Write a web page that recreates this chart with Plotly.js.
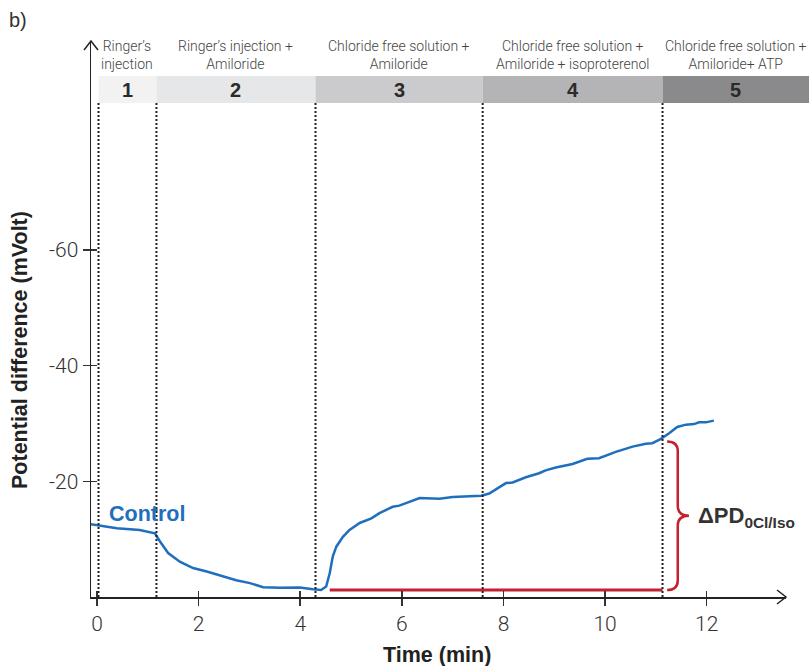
<!DOCTYPE html>
<html>
<head>
<meta charset="utf-8">
<script src="https://cdn.plot.ly/plotly-3.0.1.min.js"></script>
<style>html,body{margin:0;padding:0;background:#fff;}#chart{width:809px;height:666px;}</style>
</head>
<body>
<div id="chart"></div>
<script>
// ---- data ----
const timeMin = [-0.12, 0.39, 0.84, 1.14, 1.24, 1.40, 1.63, 1.89, 2.16, 2.41, 2.74, 3.01, 3.27, 3.60, 3.99, 4.25, 4.41, 4.51, 4.58, 4.64, 4.71, 4.84, 4.97, 5.17, 5.40, 5.56, 5.82, 5.95, 6.15, 6.35, 6.74, 7.00, 7.56, 7.72, 7.92, 8.05, 8.18, 8.44, 8.70, 8.83, 9.03, 9.36, 9.65, 9.88, 10.21, 10.54, 10.80, 10.93, 11.09, 11.26, 11.42, 11.59, 11.75, 11.85, 11.98, 12.14];
const controlPD = [-12.6, -11.9, -11.6, -11.0, -9.6, -7.6, -6.1, -5.0, -4.4, -3.7, -2.9, -2.4, -1.7, -1.6, -1.65, -1.35, -1.2, -1.8, -4.1, -7.0, -8.7, -10.4, -11.6, -12.8, -13.6, -14.5, -15.6, -15.8, -16.5, -17.1, -17.0, -17.3, -17.5, -17.9, -19.0, -19.7, -19.8, -20.7, -21.4, -21.9, -22.4, -23.0, -23.9, -24.0, -25.1, -26.0, -26.5, -26.6, -27.3, -28.3, -29.4, -29.8, -29.9, -30.2, -30.2, -30.5];
const baselineTime = [4.58, 11.13];
const baselinePD = [-1.2, -1.2];
const deltaTop = -26.9;           // PD at start of phase 5
const phaseBounds = [0.03, 1.17, 4.30, 7.59, 11.13];
const phaseNumbers = ['1', '2', '3', '4', '5'];
const phaseLabels = [
  'Ringer’s<br>injection',
  'Ringer’s injection +<br>Amiloride',
  'Chloride free solution +<br>Amiloride',
  'Chloride free solution +<br>Amiloride + isoproterenol',
  'Chloride free solution +<br>Amiloride+ ATP'
];
const phaseColors = ['#f2f2f2', '#e6e7e8', '#cbcbcd', '#b4b4b6', '#8a8a8c'];
const xTickVals = [0, 2, 4, 6, 8, 10, 12];
const yTickVals = [-20, -40, -60];
const yTickText = ['-20', '-40', '-60'];

// ---- layout helpers ----
const xr = [-0.118, 13.56];
const yr = [0, -96.14];
const W = 809, ML = 91, MR = 23, MT = 41, MB = 69;
const plotW = W - ML - MR;
const px = t => (t - xr[0]) / (xr[1] - xr[0]);
const pageRightPaper = (W - ML) / plotW;
const bandBot = (597 - 103) / 556, bandTop = (597 - 76) / 556;

const shapes = [];
const annotations = [];
const ends = phaseBounds.slice(1).map(px).concat([pageRightPaper + 0.01]);
phaseBounds.forEach((b, i) => {
  const x0 = px(b), x1 = ends[i];
  shapes.push({type: 'rect', xref: 'paper', yref: 'paper', x0: x0, x1: x1, y0: bandBot, y1: bandTop,
    fillcolor: phaseColors[i], line: {width: 0}, layer: 'below'});
  shapes.push({type: 'line', xref: 'x', yref: 'paper', x0: b, x1: b, y0: 0, y1: bandBot,
    line: {color: '#222', width: 2, dash: '2px,2px'}});
  const cx = i === 4 ? (x0 + pageRightPaper) / 2 : (x0 + x1) / 2;
  annotations.push({xref: 'paper', yref: 'paper', x: cx, y: (bandBot + bandTop) / 2, text: '<b>' + phaseNumbers[i] + '</b>',
    showarrow: false, xanchor: 'center', yanchor: 'middle',
    font: {family: 'Liberation Sans, Arial, sans-serif', size: 20, color: '#2a2a2a'}});
  annotations.push({xref: 'paper', yref: 'paper', x: cx, y: (597 - 55) / 556, text: phaseLabels[i],
    showarrow: false, xanchor: 'center', yanchor: 'middle',
    font: {family: 'Roboto, Liberation Sans, sans-serif', size: 14, color: '#444444', weight: 300}});
});

// curly brace for ΔPD (built from the baseline and phase-5 start values)
const bx0 = 11.22, bx1 = 11.43, bx2 = 11.65;
const bBot = baselinePD[0], bTop = deltaTop, bMid = (bBot + bTop) / 2;
const r = 1.7;
const bracePath = `M ${bx0},${bTop} Q ${bx1},${bTop} ${bx1},${bTop + r} L ${bx1},${bMid - r} Q ${bx1},${bMid} ${bx2},${bMid} ` +
  `Q ${bx1},${bMid} ${bx1},${bMid + r} L ${bx1},${bBot - r} Q ${bx1},${bBot} ${bx0},${bBot}`;
shapes.push({type: 'path', xref: 'x', yref: 'y', path: bracePath, line: {color: '#c4202e', width: 2.5}, layer: 'above'});

// axis arrows
shapes.push({type: 'path', xref: 'paper', yref: 'paper',
  path: `M ${1 - 9 / plotW},${7 / 556} L 1,0 L ${1 - 9 / plotW},${-7 / 556}`, line: {color: '#222', width: 1.5}});
shapes.push({type: 'path', xref: 'paper', yref: 'paper',
  path: `M ${-7 / plotW},${1 - 9 / 556} L 0,1 L ${7 / plotW},${1 - 9 / 556}`, line: {color: '#222', width: 1.5}});

annotations.push({xref: 'x', yref: 'y', x: 0.20, y: -14.3, text: '<b>Control</b>', showarrow: false,
  xanchor: 'left', yanchor: 'middle', font: {family: 'Liberation Sans, Arial, sans-serif', size: 21.5, color: '#1f6fbd'}});
annotations.push({xref: 'x', yref: 'y', x: 11.78, y: bMid + 0.2, text: '<b>ΔPD<sub>0Cl/Iso</sub></b>', showarrow: false,
  xanchor: 'left', yanchor: 'middle', font: {family: 'Liberation Sans, Arial, sans-serif', size: 22, color: '#333333'}});
annotations.push({xref: 'paper', yref: 'paper', x: -(ML - 20) / plotW, y: (597 - 350) / 556, text: '<b>Potential difference (mVolt)</b>',
  textangle: -90, showarrow: false, xanchor: 'center', yanchor: 'middle',
  font: {family: 'Liberation Sans, Arial, sans-serif', size: 21.5, color: '#222222'}});
annotations.push({xref: 'paper', yref: 'paper', x: (437 - ML) / plotW, y: -(655 - 597) / 556, text: '<b>Time (min)</b>',
  showarrow: false, xanchor: 'center', yanchor: 'middle',
  font: {family: 'Liberation Sans, Arial, sans-serif', size: 21.5, color: '#222222'}});
annotations.push({xref: 'paper', yref: 'paper', x: -(ML - 7) / plotW, y: (597 - 20) / 556, text: 'b)',
  showarrow: false, xanchor: 'left', yanchor: 'middle',
  font: {family: 'Liberation Sans, Arial, sans-serif', size: 20, color: '#333333'}});

const tickFontX = {family: 'Roboto, Liberation Sans, sans-serif', size: 21, color: '#333333', weight: 300};
const tickFontY = {family: 'Roboto, Liberation Sans, sans-serif', size: 21, color: '#333333', weight: 300};

const traces = [
  {x: timeMin, y: controlPD, type: 'scatter', mode: 'lines', line: {color: '#1f6fbd', width: 2.5}, hoverinfo: 'skip'},
  {x: baselineTime, y: baselinePD, type: 'scatter', mode: 'lines', line: {color: '#c4202e', width: 3}, hoverinfo: 'skip'},
  // empty traces so the inner-tick overlay axes are drawn
  {x: [], y: [], xaxis: 'x2', yaxis: 'y', type: 'scatter', mode: 'lines', hoverinfo: 'skip'},
  {x: [], y: [], xaxis: 'x', yaxis: 'y2', type: 'scatter', mode: 'lines', hoverinfo: 'skip'}
];

const layout = {
  width: 809, height: 666,
  margin: {l: ML, r: MR, t: MT, b: MB},
  paper_bgcolor: '#fff', plot_bgcolor: 'rgba(0,0,0,0)',
  showlegend: false,
  xaxis: {range: xr, tickvals: xTickVals, ticks: 'outside', ticklen: 7, tickwidth: 1.5, tickcolor: '#333',
    showline: true, linecolor: '#222', linewidth: 1.5, showgrid: false, zeroline: false, tickfont: tickFontX, fixedrange: true},
  xaxis2: {range: xr, overlaying: 'x', anchor: 'y', side: 'bottom', tickvals: xTickVals, ticks: 'inside', ticklen: 6,
    tickwidth: 1.5, tickcolor: '#333', showticklabels: false, showline: false, showgrid: false, zeroline: false},
  yaxis: {range: yr, tickvals: yTickVals, ticktext: yTickText, ticks: 'outside', ticklen: 7, tickwidth: 1.5, tickcolor: '#333',
    showline: true, linecolor: '#222', linewidth: 1.5, showgrid: false, zeroline: false, tickfont: tickFontY, fixedrange: true},
  yaxis2: {range: yr, overlaying: 'y', anchor: 'x', side: 'left', tickvals: yTickVals, ticks: 'inside', ticklen: 6,
    tickwidth: 1.5, tickcolor: '#333', showticklabels: false, showline: false, showgrid: false, zeroline: false},
  shapes: shapes,
  annotations: annotations
};

Plotly.newPlot('chart', traces, layout, {displayModeBar: false, staticPlot: true});
</script>
</body>
</html>
